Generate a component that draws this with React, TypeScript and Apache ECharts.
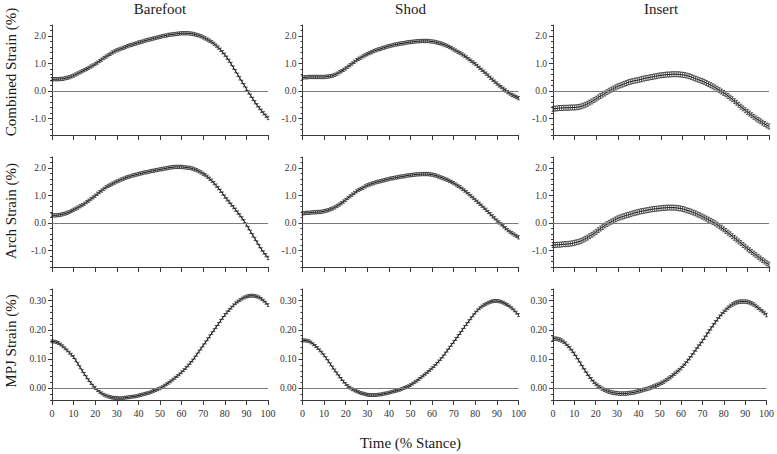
import React, { useEffect, useRef } from "react";
import * as echarts from "echarts";

// ---------- data ----------
const stance = Array.from({ length: 101 }, (_, i) => i); // % stance, 0..100
const conditions = ["Barefoot", "Shod", "Insert"];
const measures = ["Combined Strain (%)", "Arch Strain (%)", "MPJ Strain (%)"];
const xTickLabels = [0, 10, 20, 30, 40, 50, 60, 70, 80, 90, 100];
const strainTickLabels = [-1, 0, 1, 2];
const mpjTickLabels = [0, 0.1, 0.2, 0.3];

const barefootCombined = [
  0.43, 0.43, 0.43, 0.43, 0.44, 0.44, 0.46, 0.48, 0.5, 0.53, 0.56,
  0.6, 0.64, 0.68, 0.72, 0.76, 0.8, 0.84, 0.89, 0.93, 0.98,
  1.03, 1.09, 1.14, 1.2, 1.25, 1.3, 1.35, 1.4, 1.44, 1.48,
  1.51, 1.54, 1.57, 1.6, 1.63, 1.66, 1.68, 1.71, 1.73, 1.76,
  1.78, 1.8, 1.83, 1.85, 1.87, 1.89, 1.91, 1.93, 1.95, 1.97,
  1.99, 2.01, 2.02, 2.04, 2.05, 2.06, 2.07, 2.08, 2.09, 2.1,
  2.1, 2.1, 2.1, 2.09, 2.08, 2.06, 2.04, 2.02, 1.99, 1.95,
  1.91, 1.87, 1.83, 1.78, 1.72, 1.65, 1.58, 1.5, 1.41, 1.32,
  1.21, 1.1, 0.98, 0.85, 0.72, 0.59, 0.46, 0.33, 0.21, 0.08,
  -0.05, -0.17, -0.29, -0.41, -0.52, -0.62, -0.72, -0.81, -0.9, -0.98,
];
const barefootArch = [
  0.28, 0.28, 0.28, 0.29, 0.3, 0.32, 0.34, 0.37, 0.4, 0.44, 0.48,
  0.52, 0.56, 0.61, 0.65, 0.7, 0.76, 0.81, 0.87, 0.93, 0.99,
  1.06, 1.12, 1.18, 1.24, 1.3, 1.35, 1.39, 1.43, 1.47, 1.51,
  1.54, 1.58, 1.61, 1.64, 1.67, 1.69, 1.72, 1.74, 1.76, 1.78,
  1.8, 1.82, 1.84, 1.85, 1.87, 1.89, 1.9, 1.92, 1.93, 1.95,
  1.96, 1.98, 1.99, 2.01, 2.02, 2.03, 2.04, 2.04, 2.04, 2.04,
  2.03, 2.02, 2.01, 2.0, 1.98, 1.95, 1.92, 1.88, 1.84, 1.79,
  1.74, 1.68, 1.61, 1.54, 1.45, 1.36, 1.27, 1.17, 1.07, 0.96,
  0.86, 0.77, 0.67, 0.58, 0.48, 0.38, 0.28, 0.17, 0.06, -0.06,
  -0.19, -0.32, -0.45, -0.58, -0.71, -0.84, -0.96, -1.07, -1.17, -1.27,
];
const barefootMpj = [
  0.161, 0.16, 0.158, 0.155, 0.15, 0.144, 0.137, 0.13, 0.122, 0.115, 0.107,
  0.096, 0.084, 0.072, 0.06, 0.049, 0.038, 0.028, 0.018, 0.009, 0.001,
  -0.006, -0.012, -0.017, -0.022, -0.025, -0.028, -0.03, -0.032, -0.033, -0.033,
  -0.034, -0.034, -0.033, -0.032, -0.031, -0.03, -0.029, -0.028, -0.027, -0.025,
  -0.023, -0.021, -0.019, -0.017, -0.015, -0.012, -0.009, -0.006, -0.003, 0.0,
  0.004, 0.009, 0.014, 0.019, 0.024, 0.03, 0.036, 0.042, 0.048, 0.055,
  0.062, 0.07, 0.078, 0.087, 0.095, 0.105, 0.115, 0.126, 0.136, 0.147,
  0.157, 0.168, 0.178, 0.189, 0.199, 0.21, 0.22, 0.231, 0.241, 0.251,
  0.26, 0.268, 0.276, 0.284, 0.291, 0.297, 0.302, 0.307, 0.311, 0.314,
  0.316, 0.317, 0.317, 0.316, 0.314, 0.311, 0.306, 0.3, 0.293, 0.285,
];
const shodCombined = [
  0.49, 0.5, 0.5, 0.51, 0.51, 0.51, 0.51, 0.51, 0.51, 0.51, 0.51,
  0.52, 0.53, 0.54, 0.56, 0.59, 0.63, 0.68, 0.72, 0.77, 0.82,
  0.88, 0.94, 1.0, 1.06, 1.12, 1.17, 1.21, 1.26, 1.3, 1.34,
  1.38, 1.41, 1.45, 1.48, 1.51, 1.53, 1.56, 1.58, 1.61, 1.63,
  1.65, 1.67, 1.69, 1.7, 1.72, 1.73, 1.74, 1.76, 1.77, 1.78,
  1.79, 1.8, 1.81, 1.81, 1.82, 1.82, 1.82, 1.82, 1.81, 1.8,
  1.79, 1.77, 1.75, 1.73, 1.7, 1.67, 1.64, 1.6, 1.56, 1.51,
  1.47, 1.42, 1.38, 1.33, 1.28, 1.22, 1.16, 1.1, 1.04, 0.98,
  0.91, 0.84, 0.77, 0.7, 0.63, 0.56, 0.48, 0.41, 0.34, 0.27,
  0.2, 0.14, 0.08, 0.02, -0.04, -0.09, -0.14, -0.18, -0.22, -0.26,
];
const shodArch = [
  0.35, 0.36, 0.37, 0.37, 0.38, 0.39, 0.39, 0.4, 0.4, 0.41, 0.43,
  0.45, 0.47, 0.5, 0.53, 0.57, 0.62, 0.67, 0.72, 0.78, 0.84,
  0.91, 0.97, 1.03, 1.09, 1.15, 1.2, 1.24, 1.28, 1.33, 1.37,
  1.4, 1.43, 1.45, 1.48, 1.5, 1.52, 1.54, 1.56, 1.58, 1.6,
  1.62, 1.63, 1.65, 1.66, 1.68, 1.69, 1.7, 1.72, 1.73, 1.74,
  1.75, 1.76, 1.77, 1.77, 1.78, 1.78, 1.78, 1.78, 1.77, 1.76,
  1.74, 1.72, 1.69, 1.66, 1.63, 1.6, 1.57, 1.53, 1.49, 1.45,
  1.4, 1.35, 1.3, 1.24, 1.18, 1.12, 1.05, 0.98, 0.91, 0.84,
  0.77, 0.7, 0.63, 0.55, 0.48, 0.4, 0.32, 0.24, 0.17, 0.09,
  0.02, -0.05, -0.12, -0.19, -0.26, -0.32, -0.37, -0.42, -0.47, -0.52,
];
const shodMpj = [
  0.164, 0.164, 0.163, 0.161, 0.157, 0.151, 0.145, 0.138, 0.13, 0.122, 0.113,
  0.103, 0.093, 0.082, 0.071, 0.061, 0.051, 0.041, 0.032, 0.023, 0.015,
  0.008, 0.002, -0.003, -0.007, -0.01, -0.013, -0.016, -0.018, -0.02, -0.022,
  -0.023, -0.023, -0.023, -0.023, -0.022, -0.021, -0.02, -0.018, -0.017, -0.015,
  -0.013, -0.011, -0.009, -0.007, -0.005, -0.002, 0.001, 0.004, 0.007, 0.011,
  0.016, 0.021, 0.026, 0.032, 0.038, 0.044, 0.05, 0.056, 0.062, 0.069,
  0.076, 0.084, 0.092, 0.1, 0.109, 0.119, 0.129, 0.139, 0.149, 0.159,
  0.169, 0.179, 0.189, 0.2, 0.21, 0.22, 0.23, 0.24, 0.25, 0.259,
  0.267, 0.274, 0.28, 0.285, 0.289, 0.293, 0.296, 0.298, 0.299, 0.299,
  0.298, 0.296, 0.293, 0.289, 0.285, 0.28, 0.274, 0.267, 0.259, 0.251,
];
const insertCombined = [
  -0.65, -0.64, -0.63, -0.62, -0.62, -0.61, -0.61, -0.61, -0.6, -0.6, -0.6,
  -0.59, -0.58, -0.56, -0.53, -0.5, -0.46, -0.42, -0.38, -0.33, -0.28,
  -0.23, -0.18, -0.13, -0.09, -0.04, 0.01, 0.05, 0.09, 0.13, 0.17,
  0.2, 0.23, 0.26, 0.29, 0.32, 0.34, 0.36, 0.38, 0.39, 0.41,
  0.43, 0.45, 0.47, 0.48, 0.5, 0.51, 0.53, 0.54, 0.56, 0.57,
  0.58, 0.59, 0.6, 0.6, 0.61, 0.61, 0.61, 0.61, 0.6, 0.59,
  0.58, 0.56, 0.54, 0.51, 0.48, 0.45, 0.42, 0.39, 0.36, 0.33,
  0.29, 0.25, 0.21, 0.17, 0.13, 0.08, 0.03, -0.02, -0.07, -0.12,
  -0.18, -0.24, -0.3, -0.37, -0.43, -0.5, -0.57, -0.63, -0.7, -0.76,
  -0.82, -0.88, -0.94, -1.0, -1.05, -1.1, -1.15, -1.2, -1.25, -1.29,
];
const insertArch = [
  -0.8, -0.8, -0.79, -0.79, -0.78, -0.77, -0.77, -0.76, -0.75, -0.74, -0.72,
  -0.7, -0.68, -0.65, -0.61, -0.57, -0.53, -0.48, -0.43, -0.38, -0.32,
  -0.26, -0.2, -0.15, -0.09, -0.04, 0.01, 0.05, 0.09, 0.13, 0.17,
  0.2, 0.23, 0.25, 0.28, 0.3, 0.32, 0.35, 0.37, 0.39, 0.41,
  0.43, 0.44, 0.46, 0.47, 0.49, 0.5, 0.51, 0.52, 0.53, 0.54,
  0.55, 0.55, 0.56, 0.56, 0.56, 0.56, 0.55, 0.54, 0.53, 0.51,
  0.49, 0.46, 0.44, 0.41, 0.38, 0.35, 0.31, 0.28, 0.24, 0.2,
  0.16, 0.12, 0.08, 0.04, -0.01, -0.06, -0.12, -0.17, -0.23, -0.29,
  -0.35, -0.41, -0.48, -0.54, -0.6, -0.67, -0.73, -0.8, -0.86, -0.93,
  -0.99, -1.05, -1.11, -1.17, -1.23, -1.29, -1.35, -1.4, -1.46, -1.51,
];
const insertMpj = [
  0.17, 0.17, 0.169, 0.167, 0.164, 0.159, 0.153, 0.145, 0.137, 0.128, 0.118,
  0.107, 0.096, 0.084, 0.072, 0.061, 0.05, 0.04, 0.031, 0.022, 0.015,
  0.009, 0.004, -0.001, -0.005, -0.008, -0.011, -0.013, -0.015, -0.016, -0.017,
  -0.018, -0.018, -0.018, -0.018, -0.017, -0.016, -0.015, -0.014, -0.012, -0.01,
  -0.008, -0.006, -0.004, -0.002, 0.0, 0.003, 0.006, 0.009, 0.012, 0.015,
  0.019, 0.023, 0.028, 0.033, 0.038, 0.044, 0.05, 0.056, 0.062, 0.069,
  0.077, 0.085, 0.094, 0.103, 0.113, 0.123, 0.133, 0.143, 0.152, 0.162,
  0.173, 0.184, 0.195, 0.205, 0.216, 0.226, 0.236, 0.245, 0.254, 0.262,
  0.269, 0.276, 0.282, 0.287, 0.291, 0.294, 0.296, 0.297, 0.297, 0.297,
  0.296, 0.294, 0.291, 0.287, 0.282, 0.276, 0.27, 0.264, 0.258, 0.251,
];

// error (half-width of error bars) per row (measure) and column (condition)
const combinedError = [0.06, 0.06, 0.09];
const archError = [0.06, 0.06, 0.09];
const mpjError = [0.005, 0.005, 0.006];

const panelValues = [
  [barefootCombined, shodCombined, insertCombined],
  [barefootArch, shodArch, insertArch],
  [barefootMpj, shodMpj, insertMpj],
];
const panelErrors = [combinedError, archError, mpjError];

// ---------- layout / style ----------
const FONT = "'Liberation Serif', 'Times New Roman', serif";
const colLefts = [52, 302.5, 553];
const plotWidth = 216;
const rowTops = [25, 157, 289];
const rowHeights = [110, 110, 111];
const rowNameCenters = [72, 211, 341];
const axisColor = "#3a3a3a";

const rowRanges = [
  { min: -1.6, max: 2.4, step: 0.2, labels: strainTickLabels, digits: 1 },
  { min: -1.6, max: 2.4, step: 0.2, labels: strainTickLabels, digits: 1 },
  { min: -0.04, max: 0.34, step: 0.02, labels: mpjTickLabels, digits: 2 },
];

const renderErrorBar = (_params: any, api: any) => {
  const x = api.value(0);
  const y = api.value(1);
  const e = api.value(2);
  const hi = api.coord([x, y + e]);
  const lo = api.coord([x, y - e]);
  const w = 1.4;
  const style = { stroke: "#1a1a1a", lineWidth: 0.7, fill: null };
  return {
    type: "group",
    children: [
      { type: "line", shape: { x1: hi[0], y1: hi[1], x2: lo[0], y2: lo[1] }, style },
      { type: "line", shape: { x1: hi[0] - w, y1: hi[1], x2: hi[0] + w, y2: hi[1] }, style },
      { type: "line", shape: { x1: lo[0] - w, y1: lo[1], x2: lo[0] + w, y2: lo[1] }, style },
    ],
  };
};

function buildOption() {
  const grid: any[] = [];
  const xAxis: any[] = [];
  const yAxis: any[] = [];
  const series: any[] = [];
  const graphic: any[] = [];

  for (let r = 0; r < 3; r++) {
    const range = rowRanges[r];
    for (let c = 0; c < 3; c++) {
      const p = r * 3 + c;
      grid.push({
        left: colLefts[c],
        top: rowTops[r],
        width: plotWidth,
        height: rowHeights[r],
        containLabel: false,
      });
      xAxis.push({
        type: "value",
        gridIndex: p,
        min: 0,
        max: 100,
        interval: 10,
        axisLine: { onZero: false, lineStyle: { color: axisColor, width: 1 } },
        axisTick: { show: true, length: 5, lineStyle: { color: axisColor } },
        axisLabel: {
          show: r === 2,
          fontFamily: FONT,
          fontSize: 10,
          color: "#333",
          margin: 8,
          customValues: xTickLabels,
        },
        splitLine: { show: false },
      });
      // main y axis: labelled major ticks
      yAxis.push({
        type: "value",
        gridIndex: p,
        position: "left",
        min: range.min,
        max: range.max,
        axisLine: { show: true, onZero: false, lineStyle: { color: axisColor, width: 1 } },
        axisTick: {
          show: true,
          length: 4,
          lineStyle: { color: axisColor },
          customValues: range.labels,
        },
        axisLabel: {
          show: true,
          fontFamily: FONT,
          fontSize: 9.5,
          color: "#333",
          margin: 6,
          customValues: range.labels,
          formatter: (v: number) => v.toFixed(range.digits),
        },
        splitLine: { show: false },
      });
      // minor tick axis
      yAxis.push({
        type: "value",
        gridIndex: p,
        position: "left",
        min: range.min,
        max: range.max,
        interval: range.step,
        axisLine: { show: false, onZero: false },
        axisTick: { show: true, length: 2, lineStyle: { color: axisColor } },
        axisLabel: { show: false },
        splitLine: { show: false },
      });

      const values = panelValues[r][c];
      const err = panelErrors[r][c];
      series.push({
        type: "line",
        xAxisIndex: p,
        yAxisIndex: p * 2,
        data: stance.map((t, i) => [t, values[i]]),
        showSymbol: false,
        symbol: "none",
        silent: true,
        lineStyle: { color: "#1a1a1a", width: 1 },
        z: 3,
        markLine: {
          silent: true,
          symbol: "none",
          label: { show: false },
          lineStyle: { color: "#7a7a7a", type: "solid", width: 1 },
          data: [{ yAxis: 0 }],
          z: 4,
        },
      });
      series.push({
        type: "custom",
        xAxisIndex: p,
        yAxisIndex: p * 2,
        renderItem: renderErrorBar,
        data: stance.map((t, i) => [t, values[i], err]),
        silent: true,
        z: 2,
      });
    }
  }

  conditions.forEach((name, c) => {
    graphic.push({
      type: "text",
      x: colLefts[c] + plotWidth / 2,
      y: 8.5,
      style: {
        text: name,
        fontFamily: FONT,
        fontSize: 15,
        fill: "#1a1a1a",
        textAlign: "center",
        textVerticalAlign: "middle",
      },
    });
  });
  measures.forEach((name, r) => {
    graphic.push({
      type: "text",
      x: 11,
      y: rowNameCenters[r],
      rotation: Math.PI / 2,
      style: {
        text: name,
        fontFamily: FONT,
        fontSize: 15,
        fill: "#1a1a1a",
        textAlign: "center",
        textVerticalAlign: "middle",
      },
    });
  });
  graphic.push({
    type: "text",
    x: colLefts[1] + plotWidth / 2,
    y: 443,
    style: {
      text: "Time (% Stance)",
      fontFamily: FONT,
      fontSize: 15,
      fill: "#1a1a1a",
      textAlign: "center",
      textVerticalAlign: "middle",
    },
  });

  return {
    animation: false,
    backgroundColor: "#ffffff",
    grid,
    xAxis,
    yAxis,
    series,
    graphic,
  };
}

export default function App() {
  const ref = useRef<HTMLDivElement>(null);
  useEffect(() => {
    if (!ref.current) return;
    const chart = echarts.init(ref.current, undefined, { renderer: "svg" });
    chart.setOption(buildOption() as any);
    return () => chart.dispose();
  }, []);
  return (
    <div
      ref={ref}
      style={{ position: "fixed", left: 0, top: 0, width: 777, height: 454, background: "#fff" }}
    />
  );
}
